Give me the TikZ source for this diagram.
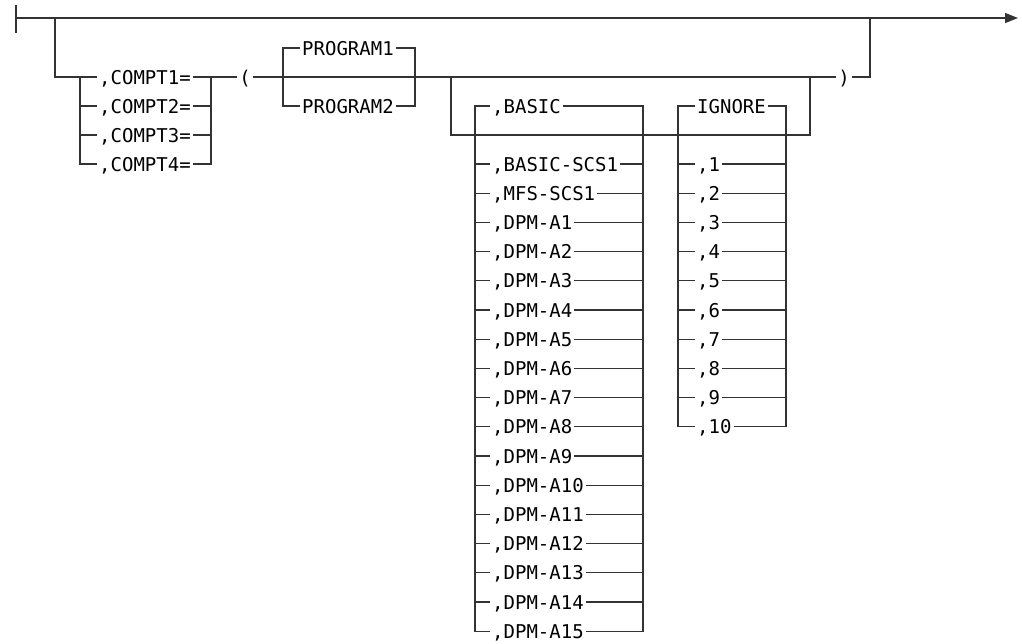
\documentclass[tikz,border=0pt]{standalone}
\usepackage{fontspec}
\usepackage{tikz}
\usetikzlibrary{arrows.meta,positioning,calc}
\newfontfamily\railfont{DejaVu Sans Mono}

\begin{document}
\begin{tikzpicture}[x=1pt, y=-1pt,
    rail/.style={line width=1.3pt, draw=black!80},
    item/.style={font=\railfont\fontsize{19}{23}\selectfont, text=black, inner sep=2pt,
                 text height=14pt, text depth=0pt, anchor=west}]
    \useasboundingbox (0,0) rectangle (1022,643);

    % main line
    \coordinate (start) at (16,18);
    \coordinate (stop) at (1018,18);
    \coordinate (tickt) at (16,5);
    \coordinate (tickb) at (16,33);
    \coordinate (brA) at (55,18);
    \coordinate (brB) at (870,18);
    \draw[rail] (tickt) -- (tickb);
    \draw[rail, -{Triangle[length=13pt,width=10pt]}] (start) -- (stop);

    % COMPTn= choice
    \coordinate (cl) at (80,0);
    \coordinate (cr) at (211,0);
    \node[item] (c1) at (97,77) {,COMPT1=};
    \node[item] (c2) at (97,106) {,COMPT2=};
    \node[item] (c3) at (97,135) {,COMPT3=};
    \node[item] (c4) at (97,164) {,COMPT4=};
    \draw[rail] (brA) |- (c1.west);
    \draw[rail] (cl |- c1) |- (c4.west);
    \draw[rail] (cl |- c2) -- (c2.west) (cl |- c3) -- (c3.west);
    \draw[rail] (c1.east) -| (cr |- c4) -- (c4.east);
    \draw[rail] (c2.east) -- (cr |- c2) (c3.east) -- (cr |- c3);

    % parentheses
    \node[item, anchor=center] (lp) at (245,77) {(};
    \node[item, anchor=center] (rp) at (844,77) {)};
    \draw[rail] (cr |- c1) -- (lp.west);
    \draw[rail] (lp.east) -- (rp.west);
    \draw[rail] (rp.east) -| (brB);

    % PROGRAMn
    \coordinate (pl) at (283,0);
    \coordinate (pr) at (415,0);
    \node[item] (p1) at (300,48) {PROGRAM1};
    \node[item] (p2) at (300,106) {PROGRAM2};
    \draw[rail] (p1.west) -| (pl |- p2) -- (p2.west);
    \draw[rail] (p1.east) -| (pr |- p2) -- (p2.east);

    % optional group
    \coordinate (oa) at (451,77);
    \coordinate (oa2) at (451,135);
    \coordinate (ob2) at (810,135);
    \coordinate (ob) at (810,77);
    \draw[rail] (oa) -- (oa2) -- (ob2) -- (ob);

    % BASIC / DPM list
    \coordinate (bl) at (475,0);
    \coordinate (br) at (643,0);
    \node[item] (b0) at (490,106) {,BASIC};
    \node[item] (b1) at (490,164) {,BASIC-SCS1};
    \node[item] (b2) at (490,193.2) {,MFS-SCS1};
    \foreach \n [evaluate=\n as \k using int(\n+2)] in {1,...,15}
        \node[item] (b\k) at (490,{164+29.2*(\k-1)}) {,DPM-A\n};
    \draw[rail] (b0.west) -| (bl |- b17) -- (b17.west);
    \draw[rail] (b0.east) -| (br |- b17) -- (b17.east);
    \foreach \k in {1,...,16}
        \draw[rail] (bl |- b\k) -- (b\k.west) (b\k.east) -- (br |- b\k);

    % IGNORE / number list
    \coordinate (il) at (678,0);
    \coordinate (ir) at (786,0);
    \node[item] (i0) at (695,106) {IGNORE};
    \foreach \n in {1,...,10}
        \node[item] (i\n) at (695,{164+29.2*(\n-1)}) {,\n};
    \draw[rail] (i0.west) -| (il |- i10) -- (i10.west);
    \draw[rail] (i0.east) -| (ir |- i10) -- (i10.east);
    \foreach \n in {1,...,9}
        \draw[rail] (il |- i\n) -- (i\n.west) (i\n.east) -- (ir |- i\n);
\end{tikzpicture}
\end{document}
